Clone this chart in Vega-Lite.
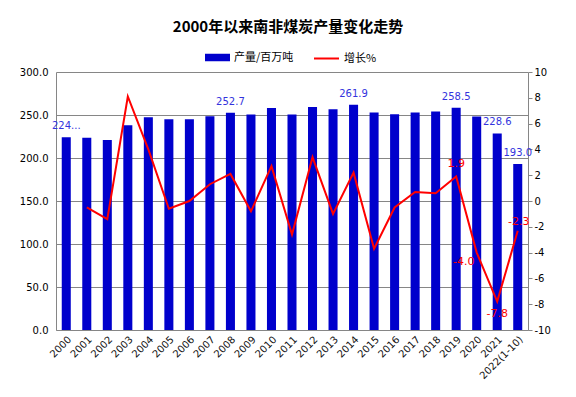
{
  "$schema": "https://vega.github.io/schema/vega-lite/v6.json",
  "width": 472,
  "height": 258,
  "autosize": "none",
  "padding": {"left": 56, "top": 72, "right": 48, "bottom": 67},
  "background": "white",
  "title": {
    "text": "2000年以来南非煤炭产量变化走势",
    "fontSize": 15,
    "fontWeight": "bold",
    "font": "Noto Sans CJK SC",
    "color": "#000000",
    "anchor": "middle",
    "dx": -4,
    "offset": 10
  },
  "data": {
    "values": [
      {"year": "2000", "prod": 224.2, "growth": null, "barLabel": "224...", "lineLabel": ""},
      {"year": "2001", "prod": 223.5, "growth": -0.5, "barLabel": "", "lineLabel": ""},
      {"year": "2002", "prod": 220.9, "growth": -1.4, "barLabel": "", "lineLabel": ""},
      {"year": "2003", "prod": 238.0, "growth": 8.1, "barLabel": "", "lineLabel": ""},
      {"year": "2004", "prod": 247.5, "growth": 4.0, "barLabel": "", "lineLabel": ""},
      {"year": "2005", "prod": 245.0, "growth": -0.6, "barLabel": "", "lineLabel": ""},
      {"year": "2006", "prod": 245.0, "growth": 0.0, "barLabel": "", "lineLabel": ""},
      {"year": "2007", "prod": 248.5, "growth": 1.3, "barLabel": "", "lineLabel": ""},
      {"year": "2008", "prod": 252.7, "growth": 2.1, "barLabel": "252.7", "lineLabel": ""},
      {"year": "2009", "prod": 250.6, "growth": -0.8, "barLabel": "", "lineLabel": ""},
      {"year": "2010", "prod": 258.0, "growth": 2.7, "barLabel": "", "lineLabel": ""},
      {"year": "2011", "prod": 250.6, "growth": -2.6, "barLabel": "", "lineLabel": ""},
      {"year": "2012", "prod": 259.2, "growth": 3.4, "barLabel": "", "lineLabel": ""},
      {"year": "2013", "prod": 256.8, "growth": -1.0, "barLabel": "", "lineLabel": ""},
      {"year": "2014", "prod": 261.9, "growth": 2.2, "barLabel": "261.9", "lineLabel": ""},
      {"year": "2015", "prod": 252.8, "growth": -3.7, "barLabel": "", "lineLabel": ""},
      {"year": "2016", "prod": 250.8, "growth": -0.5, "barLabel": "", "lineLabel": ""},
      {"year": "2017", "prod": 252.9, "growth": 0.7, "barLabel": "", "lineLabel": ""},
      {"year": "2018", "prod": 254.2, "growth": 0.6, "barLabel": "", "lineLabel": ""},
      {"year": "2019", "prod": 258.5, "growth": 1.9, "barLabel": "258.5", "lineLabel": "1.9"},
      {"year": "2020", "prod": 248.3, "growth": -4.0, "barLabel": "", "lineLabel": "-4.0"},
      {"year": "2021", "prod": 228.6, "growth": -7.8, "barLabel": "228.6", "lineLabel": "-7.8"},
      {"year": "2022(1-10)", "prod": 193.0, "growth": -2.3, "barLabel": "193.0", "lineLabel": "-2.3"}
    ]
  },
  "encoding": {
    "x": {
      "field": "year",
      "type": "ordinal",
      "sort": null,
      "scale": {"paddingInner": 0.56, "paddingOuter": 0.28},
      "axis": {
        "title": null,
        "labelAngle": -45,
        "labelFont": "DejaVu Sans",
        "labelFontSize": 10,
        "labelColor": "#111111",
        "ticks": false,
        "domainColor": "#868686",
        "labelPadding": 4
      }
    }
  },
  "layer": [
    {
      "encoding": {
        "y": {
          "field": "prod",
          "type": "quantitative",
          "scale": {"domain": [0, 300], "nice": false},
          "axis": {
            "title": null,
            "values": [0, 50, 100, 150, 200, 250, 300],
            "format": ".1f",
            "labelFont": "DejaVu Sans",
            "labelFontSize": 10,
            "labelColor": "#000000",
            "ticks": false,
            "labelPadding": 8,
            "grid": true,
            "gridColor": "#868686",
            "domainColor": "#868686"
          }
        }
      },
      "layer": [
        {
          "mark": {"type": "bar"},
          "encoding": {
            "fill": {
              "datum": "产量/百万吨",
              "scale": {"range": ["#0000CC"]},
              "legend": {
                "title": null,
                "orient": "none",
                "legendX": 149,
                "legendY": -27,
                "symbolType": "M-1,-0.3L1,-0.3L1,0.3L-1,0.3Z",
                "symbolSize": 625,
                "symbolStrokeWidth": 0,
                "labelFont": "Noto Sans CJK SC",
                "labelFontSize": 11,
                "labelColor": "#000000"
              }
            }
          }
        },
        {
          "mark": {"type": "text", "baseline": "middle", "dy": -11, "fontSize": 10, "font": "DejaVu Sans", "color": "#3333DD"},
          "encoding": {
            "text": {"field": "barLabel"}
          }
        }
      ]
    },
    {
      "encoding": {
        "y": {
          "field": "growth",
          "type": "quantitative",
          "scale": {"domain": [-10, 10], "nice": false},
          "axis": {
            "title": null,
            "orient": "right",
            "values": [-10, -8, -6, -4, -2, 0, 2, 4, 6, 8, 10],
            "format": "d",
            "labelExpr": "replace(datum.label, '−', '-')",
            "labelFont": "DejaVu Sans",
            "labelFontSize": 10,
            "labelColor": "#000000",
            "grid": false,
            "tickSize": 4,
            "tickColor": "#868686",
            "domainColor": "#868686",
            "labelPadding": 2
          }
        }
      },
      "layer": [
        {
          "mark": {"type": "line", "strokeWidth": 2},
          "encoding": {
            "stroke": {
              "datum": "增长%",
              "scale": {"range": ["#FF0000"]},
              "legend": {
                "title": null,
                "orient": "none",
                "legendX": 257,
                "legendY": -27,
                "symbolType": "stroke",
                "symbolSize": 625,
                "symbolStrokeWidth": 2,
                "labelFont": "Noto Sans CJK SC",
                "labelFontSize": 11,
                "labelColor": "#000000"
              }
            }
          }
        },
        {
          "transform": [{"filter": "datum.year == '2019'"}],
          "mark": {"type": "text", "baseline": "middle", "dy": -12, "fontSize": 11, "font": "DejaVu Sans", "color": "#FF0000"},
          "encoding": {"text": {"field": "lineLabel"}}
        },
        {
          "transform": [{"filter": "datum.year == '2020'"}],
          "mark": {"type": "text", "baseline": "middle", "dx": -13, "dy": 9, "fontSize": 11, "font": "DejaVu Sans", "color": "#FF0000"},
          "encoding": {"text": {"field": "lineLabel"}}
        },
        {
          "transform": [{"filter": "datum.year == '2021'"}],
          "mark": {"type": "text", "baseline": "middle", "dy": 12, "fontSize": 11, "font": "DejaVu Sans", "color": "#FF0000"},
          "encoding": {"text": {"field": "lineLabel"}}
        },
        {
          "transform": [{"filter": "datum.year == '2022(1-10)'"}],
          "mark": {"type": "text", "baseline": "middle", "dx": 1, "dy": -9, "fontSize": 11, "font": "DejaVu Sans", "color": "#FF0000"},
          "encoding": {"text": {"field": "lineLabel"}}
        }
      ]
    }
  ],
  "resolve": {"scale": {"y": "independent"}},
  "config": {
    "view": {"stroke": null},
    "legend": {"labelLimit": 200}
  }
}
